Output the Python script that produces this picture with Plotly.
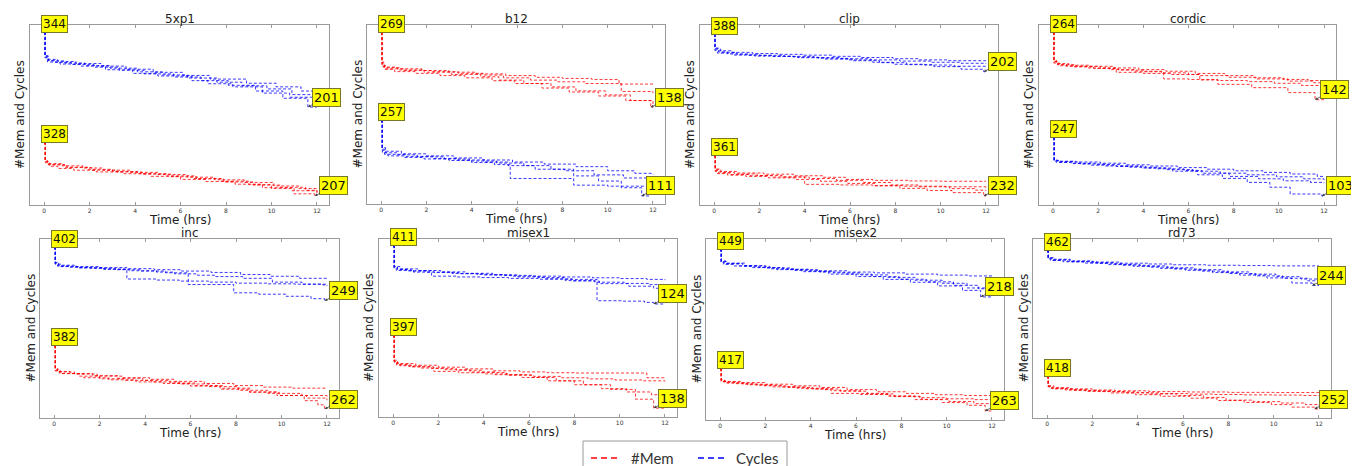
import plotly.graph_objects as go

# ---------------- data ----------------
panels = ["5xp1", "b12", "clip", "cordic", "inc", "misex1", "misex2", "rd73"]
x_ticks = [0, 2, 4, 6, 8, 10, 12]

t_mem_5xp1 = [[0,0.05,0.15,0.8,1.7,2.6,3.8,5.0,6.3,7.5,8.8,10.1,11.2,12.0],
              [0,0.04,0.2,1.0,2.1,3.2,4.3,5.6,6.7,7.9,9.2,10.4,11.5,12.0],
              [0,0.06,0.25,0.6,1.3,2.3,3.5,4.7,6.0,7.1,8.4,9.6,10.9,12.0],
              [0,0.05,0.18,0.9,1.9,3.0,4.1,5.4,6.6,7.8,9.0,10.0,11.0,11.9]]
v_mem_5xp1 = [[328,288,281,276,271,266,261,256,250,244,238,230,224,219],
              [328,285,278,272,266,262,257,251,246,239,232,227,220,216],
              [328,283,275,270,266,262,258,252,245,240,234,226,219,213],
              [328,286,279,273,268,263,258,253,247,241,233,224,212,207]]
t_cyc_5xp1 = [[0,0.04,0.12,0.6,1.4,2.5,3.6,4.8,6.1,7.3,8.9,10.2,11.3,12.0],
              [0,0.05,0.2,0.9,1.8,2.9,4.1,5.2,6.3,7.6,8.7,9.8,10.9,12.0],
              [0,0.03,0.15,0.7,1.6,2.7,3.9,5.0,6.5,7.2,8.3,9.6,10.8,11.9],
              [0,0.05,0.18,0.5,1.2,2.2,3.3,4.4,5.7,6.9,8.1,9.3,10.5,11.6,12.0]]
v_cyc_5xp1 = [[344,302,293,289,285,280,274,268,262,255,247,240,232,226],
              [344,298,290,286,281,276,269,263,257,249,242,236,225,218],
              [344,296,288,284,280,273,266,261,252,246,240,228,220,212],
              [344,300,291,287,283,278,272,265,259,252,243,232,218,201,201]]

t_mem_b12 = [[0,0.04,0.15,0.7,1.8,3.0,4.2,5.5,6.8,8.0,9.3,10.5,12.0],
             [0,0.05,0.2,1.0,2.2,3.4,4.5,5.4,6.6,7.8,9.0,10.6,12.0],
             [0,0.03,0.12,0.8,1.9,3.1,4.4,5.2,6.3,7.5,8.6,9.9,11.0,12.0],
             [0,0.05,0.18,0.6,1.5,2.6,3.7,4.9,5.9,7.1,8.3,9.6,10.8,11.9,12.0]]
v_mem_b12 = [[269,215,209,206,203,200,197,194,191,189,187,179,179],
             [269,212,206,203,201,198,195,190,186,183,180,166,163],
             [269,218,208,204,200,196,192,186,180,174,167,160,150,142],
             [269,210,205,201,198,194,190,185,180,172,165,158,150,138,138]]
t_cyc_b12 = [[0,0.05,0.2,0.9,2.0,3.2,4.5,5.8,7.2,8.6,10.0,11.2,12.0],
             [0,0.04,0.15,1.1,2.3,3.4,4.6,5.6,6.8,8.1,9.4,10.7,12.0],
             [0,0.06,0.3,1.0,1.9,3.0,4.0,5.0,5.7,8.5,10.0,11.0,12.0],
             [0,0.05,0.2,0.7,1.6,2.8,3.9,5.1,6.3,7.5,8.5,9.6,10.6,11.5,11.9]]
v_cyc_b12 = [[257,205,198,193,189,185,181,177,173,168,160,155,153],
             [257,200,192,188,184,181,177,170,163,160,152,146,140],
             [257,195,189,186,183,180,176,172,145,132,130,130,130],
             [257,202,195,191,187,183,179,175,170,163,150,140,127,111,111]]

t_mem_clip = [[0,0.05,0.25,1.0,2.2,3.5,4.8,5.8,7.0,8.6,10.0,12.0],
              [0,0.04,0.2,0.7,1.6,2.6,4.0,5.5,7.0,8.4,10.2,12.0],
              [0,0.06,0.3,0.9,1.9,3.0,4.2,5.4,6.6,7.8,9.0,10.4,11.5,12.0],
              [0,0.05,0.15,0.6,1.4,2.4,3.6,4.7,5.9,7.1,8.2,9.4,10.5,11.9,12.0]]
v_mem_clip = [[361,320,312,307,303,298,293,286,283,281,280,280],
              [361,315,307,302,298,294,270,268,266,264,262,260],
              [361,318,309,304,299,294,289,283,276,268,262,256,251,249],
              [361,312,305,300,296,291,286,280,273,265,257,250,243,232,232]]
t_cyc_clip = [[0,0.04,0.2,0.8,1.7,2.8,3.9,5.2,6.5,7.9,9.0,10.3,12.0],
              [0,0.05,0.3,1.0,2.0,3.1,4.4,5.6,6.9,8.2,9.6,10.9,12.0],
              [0,0.03,0.15,0.9,1.8,3.5,4.6,5.9,7.0,7.9,9.3,10.6,12.0],
              [0,0.05,0.2,0.6,1.5,2.6,3.7,4.9,6.1,7.3,8.5,9.7,10.9,11.9,12.0]]
v_cyc_clip = [[388,322,308,300,294,290,286,280,274,268,262,258,258],
              [388,316,300,290,285,280,274,268,262,256,250,245,243],
              [388,310,296,286,281,276,270,262,250,240,236,230,228],
              [388,318,302,292,285,279,273,266,258,248,238,228,215,202,202]]

t_mem_cordic = [[0,0.04,0.15,0.7,1.6,2.7,3.8,5.0,6.3,7.6,8.9,10.2,11.3,12.0],
                [0,0.05,0.2,1.0,2.1,2.8,4.0,5.2,6.5,7.8,9.0,10.4,11.5,12.0],
                [0,0.03,0.3,0.9,1.8,2.9,4.0,4.9,6.0,7.3,8.6,9.8,11.0,12.0],
                [0,0.05,0.2,0.6,1.5,2.5,3.6,4.8,6.0,6.5,7.3,8.8,10.4,11.6,12.0]]
v_mem_cordic = [[264,214,208,205,203,200,197,194,190,186,182,179,177,176],
                [264,211,206,203,200,192,190,188,186,183,180,176,173,171],
                [264,209,204,202,199,196,193,180,179,177,175,172,168,165],
                [264,212,206,203,200,197,194,191,188,178,170,164,155,142,142]]
t_cyc_cordic = [[0,0.05,0.2,1.0,2.1,3.2,4.3,5.5,6.8,8.0,9.3,10.5,11.7,12.0],
                [0,0.04,0.15,0.8,1.7,2.8,3.9,5.0,6.2,7.4,8.6,9.9,11.1,12.0],
                [0,0.06,0.3,1.2,2.3,3.4,4.6,5.8,6.6,7.8,9.1,10.2,11.4,12.0],
                [0,0.05,0.25,0.9,1.9,3.0,4.1,5.3,6.4,7.5,8.6,9.6,10.5,11.9,12.0]]
v_cyc_cordic = [[247,193,190,188,185,181,178,174,170,166,162,158,152,152],
                [247,190,187,184,180,177,173,169,165,160,156,151,146,143],
                [247,191,188,183,178,175,171,167,160,152,146,141,137,135],
                [247,192,189,185,182,178,173,165,156,147,137,125,108,103,103]]

t_mem_inc = [[0,0.05,0.2,0.9,1.9,3.0,4.2,5.3,6.6,7.9,9.2,10.5,12.0],
             [0,0.04,0.3,1.1,2.0,3.1,4.3,5.5,6.8,8.1,9.4,10.9,12.0],
             [0,0.06,0.25,1.3,2.4,3.6,4.8,6.0,7.3,8.6,9.9,11.1,12.0],
             [0,0.05,0.15,0.7,1.7,2.8,3.9,5.1,6.2,7.4,8.6,9.8,11.0,11.6,11.9]]
v_mem_inc = [[382,338,333,329,325,322,319,315,311,307,304,302,302],
             [382,335,330,325,320,317,314,310,305,298,292,288,285],
             [382,336,330,322,318,314,311,306,300,294,288,283,279],
             [382,340,334,330,326,321,317,312,307,302,295,288,278,270,262]]
t_cyc_inc = [[0,0.05,0.2,0.9,2.0,3.2,4.4,5.6,6.9,8.2,9.5,10.8,12.0],
             [0,0.04,0.15,1.0,2.1,3.2,4.5,5.5,6.8,8.0,9.4,10.6,11.8,12.0],
             [0,0.06,0.3,1.1,2.2,3.3,4.5,5.3,6.3,7.1,8.3,9.6,10.9,12.0],
             [0,0.05,0.2,0.7,1.6,2.7,3.8,4.9,5.9,7.9,9.0,10.2,11.3,11.9]]
v_cyc_inc = [[402,360,352,348,345,342,339,335,331,325,320,314,310],
             [402,356,349,345,341,312,309,306,303,300,298,297,295,295],
             [402,355,348,344,340,336,332,327,323,319,314,303,297,292],
             [402,358,350,346,343,339,335,330,296,272,268,262,255,249]]

t_mem_misex1 = [[0,0.05,0.2,1.0,2.0,3.2,4.4,5.6,6.8,8.0,9.2,10.4,11.2,12.0],
                [0,0.04,0.15,0.8,1.8,2.9,4.0,5.1,6.2,7.4,8.6,9.8,11.0,12.0],
                [0,0.06,0.3,1.2,2.3,3.4,4.5,5.7,6.8,8.0,9.2,10.3,11.4,12.0],
                [0,0.05,0.2,0.7,1.7,2.8,3.9,5.0,6.1,7.2,8.4,9.6,10.7,11.5,12.0]]
v_mem_misex1 = [[397,310,298,292,285,279,272,268,265,264,264,264,247,247],
                [397,305,293,286,270,265,261,256,252,247,243,239,236,234],
                [397,300,290,282,276,268,258,248,236,222,208,196,186,182],
                [397,306,295,287,280,274,266,258,248,236,222,205,170,138,138]]
t_cyc_misex1 = [[0,0.05,0.2,0.6,1.5,2.6,3.7,4.9,6.2,7.5,8.8,10.0,11.2,12.0],
                [0,0.04,0.15,0.9,1.7,2.8,3.9,5.1,6.4,7.6,8.9,10.2,11.3,12.0],
                [0,0.06,0.3,1.1,2.1,3.2,4.4,5.5,6.7,7.9,9.1,10.4,11.5,12.0],
                [0,0.05,0.2,0.8,1.8,2.9,4.0,5.2,6.4,7.6,9.0,10.1,11.1,11.5,12.0]]
v_cyc_misex1 = [[411,305,295,288,282,275,270,266,262,258,254,250,246,242],
                [411,300,290,282,262,258,255,251,247,240,232,226,220,216],
                [411,310,298,290,283,276,268,258,249,238,225,212,202,196],
                [411,308,296,288,280,274,268,262,255,246,140,138,132,124,124]]

t_mem_misex2 = [[0,0.05,0.2,0.9,2.0,3.2,4.4,5.6,6.9,8.2,9.5,10.8,12.0],
                [0,0.04,0.3,1.2,2.3,3.4,4.6,4.9,6.2,7.5,8.8,10.0,11.2,12.0],
                [0,0.06,0.25,1.0,1.9,3.0,4.1,5.3,6.5,7.7,8.9,10.1,11.2,12.0],
                [0,0.05,0.15,0.7,1.6,2.7,3.8,5.0,6.2,7.4,8.6,9.8,10.9,11.7,12.0]]
v_mem_misex2 = [[417,378,372,368,362,356,350,342,334,328,323,320,318],
                [417,372,366,360,352,347,342,328,324,318,312,308,305,303],
                [417,375,368,362,356,350,344,336,326,316,306,298,290,285],
                [417,376,370,364,358,352,345,338,328,318,305,294,284,263,263]]
t_cyc_misex2 = [[0,0.05,0.3,1.0,2.0,3.1,4.3,5.6,6.8,8.2,9.6,11.0,12.0],
                [0,0.04,0.2,0.8,1.7,2.8,3.9,5.0,6.2,7.4,8.6,9.8,10.9,12.0],
                [0,0.06,0.25,1.1,2.2,3.3,4.4,5.5,6.7,7.9,9.1,10.3,11.4,12.0],
                [0,0.05,0.15,0.6,1.4,2.5,3.6,4.8,6.0,7.2,8.4,9.6,10.7,11.5,12.0]]
v_cyc_misex2 = [[449,392,382,372,360,352,346,340,336,330,325,321,320],
                [449,388,380,370,362,354,344,336,326,314,300,285,262,253],
                [449,395,384,368,356,348,340,330,318,305,292,275,258,246],
                [449,390,378,370,362,352,342,330,318,304,290,272,250,218,218]]

t_mem_rd73 = [[0,0.05,0.3,1.0,2.0,3.0,4.5,6.2,8.0,10.0,12.0],
              [0,0.04,0.2,0.9,1.8,2.9,4.0,5.0,6.2,7.4,8.7,10.0,11.3,12.0],
              [0,0.06,0.25,1.2,2.3,3.4,4.5,5.7,6.9,7.9,9.1,10.3,11.4,12.0],
              [0,0.05,0.15,0.8,1.7,2.8,3.9,5.0,6.3,7.5,8.7,9.9,10.8,11.8,12.0]]
v_mem_rd73 = [[418,372,362,356,350,346,342,340,338,337,337],
              [418,368,358,352,346,341,336,332,329,327,325,324,322,322],
              [418,366,356,348,342,336,330,322,312,298,290,283,275,270],
              [418,370,360,350,343,335,326,318,308,296,286,275,262,252,252]]
t_cyc_rd73 = [[0,0.05,0.3,1.0,2.0,3.2,4.5,5.5,7.0,8.5,10.0,12.0],
              [0,0.04,0.2,0.9,1.9,3.0,4.1,5.3,6.5,7.7,8.9,10.1,11.2,12.0],
              [0,0.06,0.25,1.1,2.2,3.3,4.5,5.6,6.8,8.0,9.2,10.4,11.5,12.0],
              [0,0.05,0.15,0.7,1.6,2.7,3.8,5.0,6.1,7.3,8.5,9.7,10.8,11.7,12.0]]
v_cyc_rd73 = [[462,420,410,400,392,385,380,375,372,370,368,368],
              [462,415,405,396,388,378,368,356,344,330,316,300,285,275],
              [462,418,406,394,384,372,360,348,335,320,305,290,274,264],
              [462,412,402,394,386,376,365,352,340,326,310,292,260,244,244]]

MEM = {"5xp1": (t_mem_5xp1, v_mem_5xp1), "b12": (t_mem_b12, v_mem_b12),
       "clip": (t_mem_clip, v_mem_clip), "cordic": (t_mem_cordic, v_mem_cordic),
       "inc": (t_mem_inc, v_mem_inc), "misex1": (t_mem_misex1, v_mem_misex1),
       "misex2": (t_mem_misex2, v_mem_misex2), "rd73": (t_mem_rd73, v_mem_rd73)}
CYC = {"5xp1": (t_cyc_5xp1, v_cyc_5xp1), "b12": (t_cyc_b12, v_cyc_b12),
       "clip": (t_cyc_clip, v_cyc_clip), "cordic": (t_cyc_cordic, v_cyc_cordic),
       "inc": (t_cyc_inc, v_cyc_inc), "misex1": (t_cyc_misex1, v_cyc_misex1),
       "misex2": (t_cyc_misex2, v_cyc_misex2), "rd73": (t_cyc_rd73, v_cyc_rd73)}

# ---------------- layout ----------------
W, H = 1359, 466
DOM_PX = [(22, 321, 17, 197), (359, 657, 17, 196), (692, 990, 17, 197), (1031, 1328, 17, 197),
          (32, 331, 231, 410), (371, 669, 231, 409), (698, 996, 231, 412), (1025, 1323, 231, 410)]
# (fraction from top of plot where the series starts, where it reaches its minimum)
MEM_FRAC = [(0.656, 0.95), (0.045, 0.46), (0.73, 0.95), (0.044, 0.415),
            (0.60, 0.95), (0.545, 0.95), (0.72, 0.95), (0.77, 0.95)]
CYC_FRAC = [(0.044, 0.456), (0.536, 0.955), (0.055, 0.26), (0.63, 0.95),
            (0.05, 0.345), (0.04, 0.365), (0.06, 0.32), (0.067, 0.26)]

RED = "rgba(255,0,0,0.78)"
BLUE = "rgba(0,0,255,0.78)"
DASH = "3px,2px"
FRAME = "#9a9a9a"
FONT = "DejaVu Sans"


def y_range(vals, frac):
    s = max(max(v) for v in vals)
    e = min(min(v) for v in vals)
    fs, fe = frac
    span = (s - e) / (fe - fs)
    hi = s + fs * span
    return [hi - span, hi], s, e


fig = go.Figure()
lay = {}
ann = []
shapes = []

for i, name in enumerate(panels):
    xn = "x" if i == 0 else f"x{i+1}"
    ym = "y" if i == 0 else f"y{2*i+1}"
    yc = f"y{2*i+2}"
    xkey = "xaxis" if i == 0 else f"xaxis{i+1}"
    ymkey = "yaxis" if i == 0 else f"yaxis{2*i+1}"
    yckey = f"yaxis{2*i+2}"
    l, r, t, b = DOM_PX[i]
    xd = [l / W, r / W]
    yd = [1 - b / H, 1 - t / H]
    tm, vm = MEM[name]
    tc, vc = CYC[name]
    rm, sm, em = y_range(vm, MEM_FRAC[i])
    rc, sc, ec = y_range(vc, CYC_FRAC[i])

    lay[xkey] = dict(domain=xd, anchor=ym, range=[-0.62, 12.53], tickvals=x_ticks,
                     ticks="inside", ticklen=3, tickcolor=FRAME, showline=True,
                     linecolor=FRAME, linewidth=1, mirror="ticks", showgrid=False,
                     zeroline=False, tickfont=dict(size=6, color="#333", family=FONT))
    lay[ymkey] = dict(domain=yd, anchor=xn, range=rm, showticklabels=False, ticks="",
                      showline=True, linecolor=FRAME, linewidth=1, mirror=True,
                      showgrid=False, zeroline=False)
    lay[yckey] = dict(anchor=xn, overlaying=ym, range=rc, visible=False)

    for series, col, yname, s_val, e_val in ((MEM[name], RED, ym, sm, em),
                                             (CYC[name], BLUE, yc, sc, ec)):
        ts, vs = series
        for tt, vv in zip(ts, vs):
            fig.add_trace(go.Scatter(x=tt, y=vv, xaxis=xn, yaxis=yname, mode="lines",
                                     line=dict(color=col, width=1, dash=DASH, shape="hv"),
                                     showlegend=False, hoverinfo="skip"))
        # start label
        ann.append(dict(x=0, y=s_val, xref=xn, yref=yname, text=str(s_val),
                        showarrow=False, xanchor="left", yanchor="bottom", xshift=-3,
                        bgcolor="#ffff00", bordercolor="#77772a", borderwidth=1,
                        borderpad=1, font=dict(size=12, color="#111", family=FONT)))
        # end (minimum) label with arrow
        k = min(range(len(vs)), key=lambda j: min(vs[j]))
        j0 = vs[k].index(e_val)
        ann.append(dict(x=ts[k][j0], y=e_val, xref=xn, yref=yname, text=str(e_val),
                        showarrow=True, ax=19, ay=-10, arrowhead=2, arrowsize=0.7,
                        arrowwidth=0.8, arrowcolor="#444", standoff=0,
                        bgcolor="#ffff00", bordercolor="#77772a", borderwidth=1,
                        borderpad=1, font=dict(size=13, color="#111", family=FONT)))

    # subplot title, axis titles
    ann.append(dict(x=0.5, y=1, xref=f"{xn} domain", yref=f"{ym} domain", text=name,
                    showarrow=False, xanchor="center", yanchor="bottom", yshift=-3,
                    font=dict(size=12, color="#222", family=FONT)))
    ann.append(dict(x=0.5, y=0, xref=f"{xn} domain", yref=f"{ym} domain", text="Time (hrs)",
                    showarrow=False, xanchor="center", yanchor="top", yshift=-6,
                    font=dict(size=12, color="#222", family=FONT)))
    ann.append(dict(x=0, y=0.5, xref=f"{xn} domain", yref=f"{ym} domain",
                    text="#Mem and Cycles", textangle=-90, showarrow=False,
                    xanchor="right", yanchor="middle", xshift=-1,
                    font=dict(size=12, color="#222", family=FONT)))

# ---------------- manual legend ----------------
LX0, LX1, LY = 575, 779, 433
def px(x):
    return x / W
def py(y):
    return 1 - y / H
shapes += [
    dict(type="line", xref="paper", yref="paper", x0=px(LX0), x1=px(LX1), y0=py(LY), y1=py(LY),
         line=dict(color="#9a9a9a", width=1)),
    dict(type="line", xref="paper", yref="paper", x0=px(LX0), x1=px(LX0), y0=py(LY), y1=py(472),
         line=dict(color="#9a9a9a", width=1)),
    dict(type="line", xref="paper", yref="paper", x0=px(LX1), x1=px(LX1), y0=py(LY), y1=py(472),
         line=dict(color="#9a9a9a", width=1)),
    dict(type="line", xref="paper", yref="paper", x0=px(583), x1=px(611), y0=py(450), y1=py(450),
         line=dict(color="red", width=1.5, dash="6px,4px")),
    dict(type="line", xref="paper", yref="paper", x0=px(690), x1=px(718), y0=py(450), y1=py(450),
         line=dict(color="blue", width=1.5, dash="6px,4px")),
]
ann.append(dict(x=px(621), y=py(450), xref="paper", yref="paper", text="#Mem", showarrow=False,
                xanchor="left", yanchor="middle", font=dict(size=15, color="#333", family="Lato")))
ann.append(dict(x=px(726), y=py(450), xref="paper", yref="paper", text="Cycles", showarrow=False,
                xanchor="left", yanchor="middle", font=dict(size=15, color="#333", family="Lato")))

fig.update_layout(width=W, height=H, autosize=False,
                  margin=dict(l=0, r=0, t=0, b=0, pad=0),
                  paper_bgcolor="white", plot_bgcolor="white",
                  showlegend=False, annotations=ann, shapes=shapes,
                  font=dict(family=FONT), **lay)

fig.write_html("out.html")
